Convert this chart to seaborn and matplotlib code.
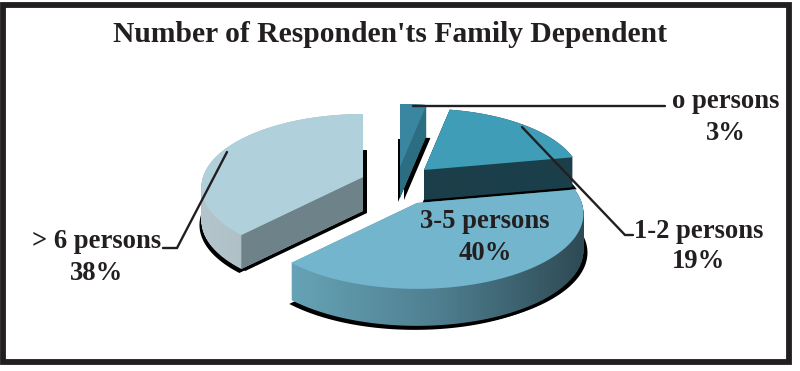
import numpy as np
import matplotlib
matplotlib.use('Agg')
import matplotlib.pyplot as plt
from matplotlib.patches import Polygon, Rectangle
from matplotlib.path import Path
from matplotlib.transforms import Affine2D
import seaborn as sns

title = "Number of Responden'ts Family Dependent"
categories = ['o persons', '1-2 persons', '3-5 persons', '> 6 persons']
values = [3, 19, 40, 38]

# apex of each exploded slice in pixels, radius factor, extrusion depth
centers = [(400, 167), (424, 170), (417, 203), (363, 177)]
radii = [1.0, 0.97, 1.03, 1.0]
depths = [31, 30, 37, 34]
top_colors = ['#3a86a0', '#3f9db8', '#72b5cc', '#b0d0dc']
side_colors = [['#2c6e82', '#2c6e82'], ['#1b3f4a', '#1b3f4a'],
               ['#66a3b6', '#4f7f90', '#2e4a54'], ['#b4c5cc', '#a2b3ba']]
draw_order = [3, 0, 1, 2]
INK = '#231f20'


def project(xy, center, radius):
    # perspective tilt of the unit pie, far side shrinks
    w = 1 + 0.137 * xy[:, 1] * radius
    px = center[0] + 160 * radius * xy[:, 0] / w
    py = center[1] - 71.6 * radius * xy[:, 1] / w
    return np.column_stack([px, py])


def slice_outline(wedge):
    path = wedge.get_path().transformed(wedge.get_patch_transform())
    poly = path.to_polygons(Affine2D().scale(2000))[0] / 2000
    return poly


def main():
    sns.set_theme(style='white')
    plt.rcParams['font.family'] = ['Liberation Serif', 'DejaVu Serif']

    fig = plt.figure(figsize=(8, 3.71), dpi=100)
    ax = fig.add_axes([0, 0, 1, 1])

    wedges, _ = ax.pie(values, startangle=90, counterclock=False, radius=1, center=(0, 0))
    outlines = [slice_outline(w) for w in wedges]
    for w in wedges:
        w.remove()

    for i in draw_order:
        top = project(outlines[i], centers[i], radii[i])
        depth = depths[i]

        # black shadow peeking out under the solid
        for dx, dy in [(-2, depth + 4), (4, depth + 2)]:
            ax.add_patch(Polygon(top + (dx, dy), closed=True, fc='black', ec='none', zorder=i * 3 + 1))

        # side wall: the top outline swept downward, filled with a gradient
        layers = [Path(np.vstack([top + (0, d), top[:1] + (0, d)]), closed=True) for d in range(0, depth + 1)]
        hull = Path.make_compound_path(*layers)
        x0, x1 = top[:, 0].min(), top[:, 0].max()
        cmap = sns.blend_palette(side_colors[i], as_cmap=True)
        img = ax.imshow(np.linspace(0, 1, 256)[None, :], cmap=cmap, aspect='auto',
                        extent=(x0, x1, 371, 0), zorder=i * 3 + 2)
        img.set_clip_path(hull, transform=ax.transData)

        # the flat cut face of the big light slice is a plain grey
        if i == 3:
            apex = np.argmin(np.hypot(*(top - centers[i]).T))
            near = [top[apex - 1], top[(apex + 1) % len(top)]]
            corner = max(near, key=lambda p: p[1])
            a = top[apex]
            ax.add_patch(Polygon([a, corner, corner + (0, depth), a + (0, depth)], closed=True,
                                 fc='#6d8289', ec='none', zorder=i * 3 + 2.5))

        ax.add_patch(Polygon(top, closed=True, fc=top_colors[i], ec='none', zorder=i * 3 + 3))

    # leader lines
    leaders = [([413, 665], [106, 106]),
               ([522, 625, 633], [127, 235, 235]),
               ([227, 177, 163], [152, 248, 248])]
    for xs, ys in leaders:
        ax.plot(xs, ys, color=INK, lw=1.7, zorder=30, solid_joinstyle='miter')

    # frame
    ax.add_patch(Rectangle((3, 5), 786, 357, fc='none', ec=INK, lw=4.2, zorder=31))

    font = dict(color=INK, fontweight='bold', ha='center', va='center', zorder=32)
    ax.text(390, 35, title, fontsize=21.3, **font)
    size = 19.2
    ax.text(726, 102, categories[0], fontsize=size, **font)
    ax.text(726, 134, f'{values[0]}%', fontsize=size, **font)
    ax.text(699, 231, categories[1], fontsize=size, **font)
    ax.text(699, 262, f'{values[1]}%', fontsize=size, **font)
    ax.text(485, 222, categories[2], fontsize=size, **font)
    ax.text(485, 254, f'{values[2]}%', fontsize=size, **font)
    ax.text(97, 242, categories[3], fontsize=size, **font)
    ax.text(97, 274, f'{values[3]}%', fontsize=size, **font)

    ax.set_aspect('auto')
    ax.set_xlim(0, 800)
    ax.set_ylim(371, 0)
    ax.axis('off')
    fig.savefig('out.png', dpi=100, facecolor='white')


if __name__ == '__main__':
    main()
